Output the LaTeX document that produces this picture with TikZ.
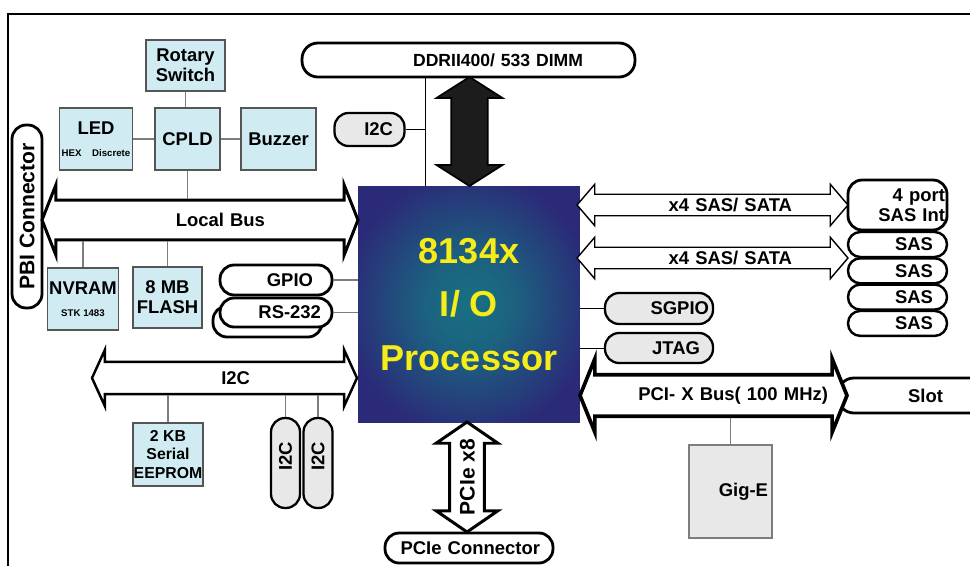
\documentclass[tikz,border=0pt]{standalone}
\usepackage{fontspec}
\setmainfont{Liberation Sans}
\usetikzlibrary{shapes.arrows,calc}
\definecolor{paleblue}{RGB}{208,236,242}
\definecolor{boxline}{RGB}{85,85,85}
\definecolor{pillgray}{RGB}{232,232,232}
\definecolor{chipnavy}{RGB}{43,42,120}
\definecolor{chipteal}{RGB}{24,112,130}
\definecolor{chipyellow}{RGB}{246,236,24}
\definecolor{stubgray}{RGB}{125,125,125}
\definecolor{ddrblack}{RGB}{28,28,28}
\pgfdeclareradialshading{chipglow}{\pgfpoint{0bp}{0bp}}{%
  color(0bp)=(chipteal); color(10bp)=(chipteal!80!chipnavy);
  color(28bp)=(chipnavy); color(50bp)=(chipnavy)}
\tikzset{
  lbl/.style={font=\fontsize{10.5}{11.5}\selectfont\bfseries},
  chip/.style={draw=boxline,line width=0.6pt,fill=#1,inner sep=1pt,align=center,lbl},
  chip/.default=paleblue,
  pill/.style={draw,line width=1.6pt,fill=#1,rounded corners=8pt,inner sep=0pt,align=right,lbl},
  pill/.default=white,
  bus/.style={double arrow,draw,fill=white,inner xsep=0pt,align=right,lbl},
  stub/.style={draw=stubgray,line width=0.6pt},
  wire/.style={draw=black,line width=0.5pt},
}
\begin{document}
\begin{tikzpicture}[x=0.02cm,y=-0.02cm]
  \useasboundingbox (0,0) rectangle (970,565);
  \draw[line width=1pt] (8,575) -- (8,14) -- (980,14);
  % control block
  \node[chip,minimum width=1.58cm,minimum height=1.02cm] (rotary) at (185.5,65.5) {Rotary\\Switch};
  \node[chip,minimum width=1.44cm,minimum height=1.24cm] (led) at (96,139)
    {LED\\[1pt]{\fontsize{5.5}{6}\selectfont HEX\hspace{1.1em}Discrete}};
  \node[chip,minimum width=1.30cm,minimum height=1.24cm] (cpld) at (187.5,139) {CPLD};
  \node[chip,minimum width=1.50cm,minimum height=1.24cm] (buzzer) at (278.5,139) {Buzzer};
  \node[chip,minimum width=1.40cm,minimum height=1.24cm] (nvram) at (83,299)
    {NVRAM\\[1pt]{\fontsize{5.5}{6}\selectfont STK 1483}};
  \node[chip,minimum width=1.38cm,minimum height=1.22cm] (flash) at (167.5,297.5) {8 MB\\FLASH};
  \node[chip,inner sep=0pt,minimum width=1.40cm,minimum height=1.26cm,
    font=\fontsize{9}{10.4}\selectfont\bfseries] (eeprom) at (168,454.5) {2 KB\\Serial\\EEPROM};
  \node[chip=pillgray,draw=stubgray,minimum width=1.66cm,minimum height=1.86cm,
    text width=1.5cm,align=right] (gige) at (730.5,491.5) {Gig-E};
  % processor
  \node[shade,shading=chipglow,minimum width=4.44cm,minimum height=4.74cm,align=center,
    text=chipyellow,font=\fontsize{20.5}{30.3}\selectfont\bfseries] (proc) at (469,304.5)
    {8134x\\I/ O\\Processor};
  % pills
  \node[pill,minimum width=6.66cm,minimum height=0.68cm,rounded corners=9pt,text width=4.58cm,
    font=\fontsize{10}{11}\selectfont\bfseries] (ddr) at (468.5,60) {DDRII400/ 533 DIMM};
  \node[pill,rotate=90,minimum width=3.66cm,minimum height=0.6cm,align=center,
    font=\fontsize{12}{13}\selectfont\bfseries] (pbi) at (27,216.5) {PBI Connector};
  \node[pill=pillgray,line width=1.3pt,minimum width=1.40cm,minimum height=0.66cm,
    text width=0.94cm] (i2ct) at (369.5,129.5) {I2C};
  \node[pill,minimum width=2.24cm,minimum height=0.60cm,text width=1.48cm] (gpio) at (276,280) {GPIO};
  \node[pill,minimum width=2.18cm,minimum height=0.62cm] (rsback) at (267.5,321.5) {};
  \node[pill,minimum width=2.24cm,minimum height=0.58cm,text width=1.8cm] (rs232) at (276,312.5) {RS-232};
  \node[pill=pillgray,line width=1.3pt,minimum width=2.16cm,minimum height=0.62cm,
    text width=2.0cm] (sgpio) at (659,308.5) {SGPIO};
  \node[pill=pillgray,line width=1.3pt,minimum width=2.16cm,minimum height=0.60cm,
    text width=1.64cm] (jtag) at (659,348) {JTAG};
  \node[pill,minimum width=1.98cm,minimum height=1.0cm,text width=1.9cm] (sas4) at (897.5,205) {4 port\\SAS Int};
  \foreach \i in {0,...,3}
    \node[pill,line width=1.4pt,rounded corners=7pt,minimum width=1.98cm,minimum height=0.5cm,
      text width=1.42cm] (sas\i) at (897.5,{244.5+26.3*\i}) {SAS};
  \node[pill,minimum width=3.24cm,minimum height=0.70cm,rounded corners=9pt,text width=0.96cm] (slot) at (919,395.5) {Slot};
  \node[pill,minimum width=3.36cm,minimum height=0.60cm,text width=2.84cm] (pcie) at (469,548) {PCIe Connector};
  \node[pill=pillgray,line width=1.3pt,rotate=90,minimum width=1.8cm,minimum height=0.58cm,
    text width=0.84cm] (i2cv1) at (285.5,463) {I2C};
  \node[pill=pillgray,line width=1.3pt,rotate=90,minimum width=1.8cm,minimum height=0.58cm,
    text width=0.84cm] (i2cv2) at (318,463) {I2C};
  % buses
  \node[bus,line width=1.7pt,minimum height=6.32cm,double arrow head extend=0.31cm,
    double arrow tip angle=137,inner ysep=6.75pt,text height=7.5pt,text depth=0pt,
    text width=2.6cm] (lbus) at (200,220) {Local Bus};
  \node[bus,line width=1.4pt,minimum height=5.30cm,double arrow head extend=0.24cm,
    double arrow tip angle=131,inner ysep=4.75pt,text height=7.5pt,text depth=0pt,
    text width=1.02cm] (ibus) at (224.5,378) {I2C};
  \node[bus,line width=2.1pt,minimum height=5.34cm,double arrow head extend=0.32cm,
    double arrow tip angle=136,inner ysep=5.75pt,text height=8pt,text depth=2pt,
    text width=4.58cm] (pcix) at (713.5,395.5) {PCI- X Bus( 100 MHz)};
  \foreach \y/\n in {205/sasa,258/sasb}
    \node[bus,line width=0.8pt,minimum height=5.42cm,double arrow head extend=0.2cm,
      double arrow tip angle=99,inner ysep=2.1pt,text height=7.2pt,text depth=0pt,
      text width=3.18cm] (\n) at (712.5,\y) {x4 SAS/ SATA};
  \node[double arrow,draw=black,fill=ddrblack,line width=1pt,rotate=90,minimum height=2.18cm,
    double arrow head extend=0.29cm,double arrow tip angle=115,inner xsep=0pt,inner ysep=9.95pt,
    text height=0pt,text depth=0pt] (ddrarrow) at (469.5,131.5) {};
  \node[bus,line width=1.7pt,rotate=90,minimum height=2.2cm,double arrow head extend=0.27cm,
    double arrow tip angle=111,inner ysep=4.75pt,text height=8.6pt,text depth=0pt,
    font=\fontsize{12}{13}\selectfont\bfseries] (pciearrow) at (467,477) {\makebox[0pt]{PCIe x8}};
  % connections
  \draw[stub] (rotary.south) -- (rotary.south |- cpld.north);
  \draw[stub] (led) -- (cpld);
  \draw[stub] (cpld) -- (buzzer);
  \draw[stub] (cpld.south) -- (cpld.south |- lbus.north);
  \draw[stub] (nvram.north) -- (nvram.north |- lbus.south);
  \draw[stub] (flash.north) -- (flash.north |- lbus.south);
  \draw[stub] (eeprom.north) -- (eeprom.north |- ibus.south);
  \draw[stub] (i2cv1.east) -- (i2cv1.east |- ibus.south);
  \draw[stub] (i2cv2.east) -- (i2cv2.east |- ibus.south);
  \draw[stub] (gige.north) -- (gige.north |- pcix.south);
  \draw[stub] (gpio.east) -- (gpio.east -| proc.west);
  \draw[stub] (rs232.east) -- (rs232.east -| proc.west);
  \draw[wire] (sgpio.west) -- (sgpio.west -| proc.east);
  \draw[wire] (jtag.west) -- (jtag.west -| proc.east);
  \coordinate (ddrtap) at (425,0);
  \draw[wire] (ddr.south -| ddrtap) -- (proc.north -| ddrtap);
  \draw[wire] (i2ct.east) -- (i2ct.east -| ddrtap);
\end{tikzpicture}
\end{document}
